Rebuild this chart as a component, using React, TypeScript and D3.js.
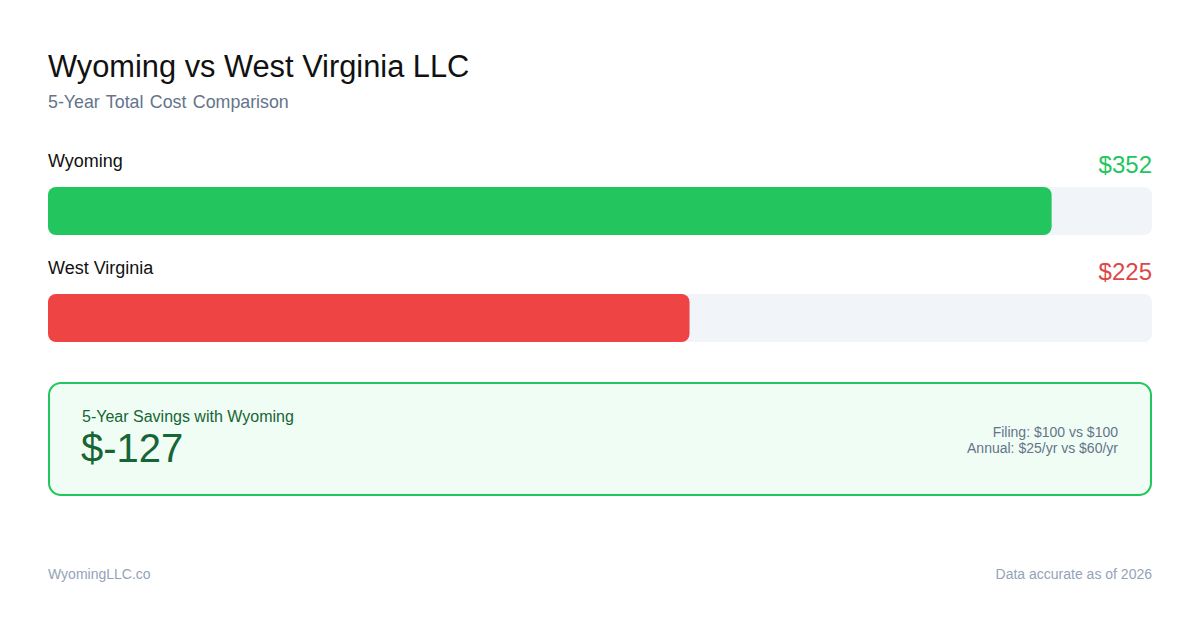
import React from "react";
import * as d3 from "d3";

const states = ["Wyoming", "West Virginia"];
const totals = [352, 225];
const barColors = ["#22c55e", "#ef4444"];
const valueColors = ["#22c55e", "#dc4848"];
const savingsLabel = "5-Year Savings with Wyoming";
const savingsValue = "$-127";
const detailLines = ["Filing: $100 vs $100", "Annual: $25/yr vs $60/yr"];
const title = "Wyoming vs West Virginia LLC";
const subtitle = "5-Year Total Cost Comparison";
const footerLeft = "WyomingLLC.co";
const footerRight = "Data accurate as of 2026";

const W = 1200;
const H = 630;
const FONT = "'Liberation Sans', Arial, Helvetica, sans-serif";

export default function App() {
  const left = 48;
  const right = 1152;
  const x = d3
    .scaleLinear()
    .domain([0, (d3.max(totals) as number) * 1.1])
    .range([0, right - left]);
  const rowY = d3.scaleOrdinal<string, number>().domain(states).range([187, 294]);
  const barH = 48;

  return (
    <svg
      width={W}
      height={H}
      style={{ position: "absolute", left: 0, top: 0, background: "#fff" }}
      fontFamily={FONT}
    >
      <rect width={W} height={H} fill="#ffffff" />
      <text x={left} y={77} fontSize={30.8} fill="#111111">
        {title}
      </text>
      <text x={left} y={108} fontSize={17.8} fill="#64748b" wordSpacing={1.5}>
        {subtitle}
      </text>

      {states.map((s, i) => {
        const y = rowY(s);
        return (
          <g key={s}>
            <text x={left} y={y - 20} fontSize={18} fill="#111111">
              {s}
            </text>
            <text
              x={right}
              y={y - 14}
              fontSize={24}
              fill={valueColors[i]}
              textAnchor="end"
            >
              {"$" + totals[i]}
            </text>
            <rect x={left} y={y} width={right - left} height={barH} rx={8} fill="#f1f5f9" />
            <rect x={left} y={y} width={x(totals[i])} height={barH} rx={8} fill={barColors[i]} />
          </g>
        );
      })}

      <rect
        x={49}
        y={383}
        width={1102}
        height={112}
        rx={12}
        fill="#f0fdf4"
        stroke="#22c55e"
        strokeWidth={2}
      />
      <text x={82} y={422} fontSize={16} fill="#166534">
        {savingsLabel}
      </text>
      <text x={81} y={462} fontSize={40} fill="#166534">
        {savingsValue}
      </text>
      {detailLines.map((t, i) => (
        <text key={t} x={1118} y={437 + i * 16} fontSize={14} fill="#64748b" textAnchor="end">
          {t}
        </text>
      ))}

      <text x={left} y={579} fontSize={14} fill="#94a3b8">
        {footerLeft}
      </text>
      <text x={right} y={579} fontSize={14} fill="#94a3b8" textAnchor="end">
        {footerRight}
      </text>
    </svg>
  );
}
